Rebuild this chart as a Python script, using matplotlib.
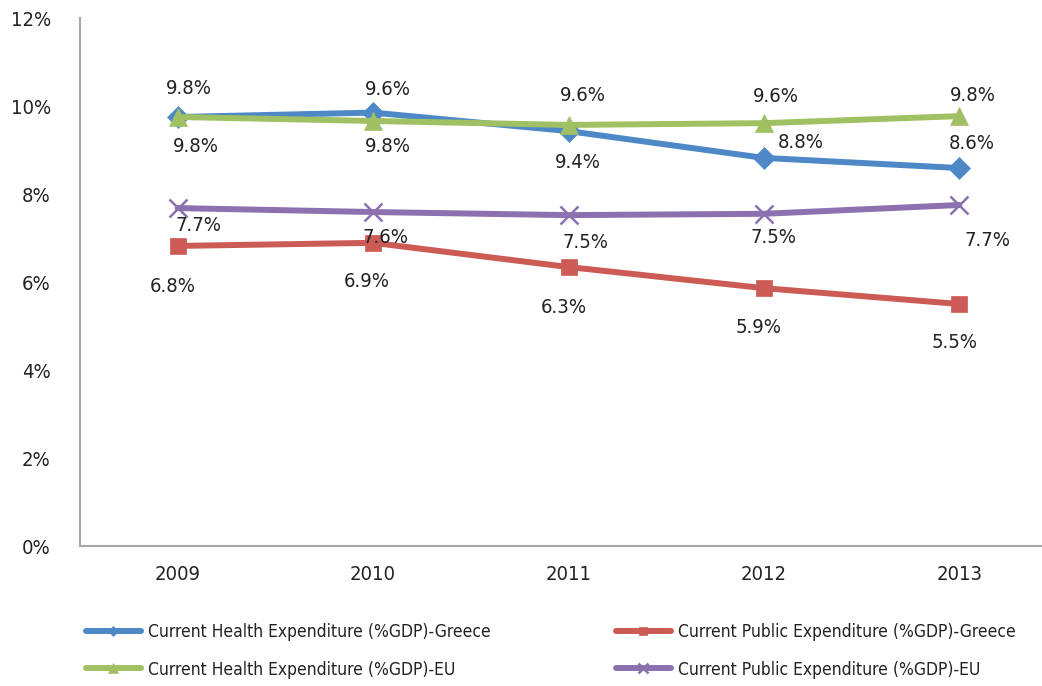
import numpy as np
import matplotlib
matplotlib.use("Agg")
import matplotlib.pyplot as plt
from matplotlib.ticker import FuncFormatter

plt.rcParams['font.family'] = ['DejaVu Sans']
plt.rcParams['font.stretch'] = 'condensed'

# data
years = ["2009", "2010", "2011", "2012", "2013"]
health_gr = [9.75, 9.85, 9.43, 8.82, 8.59]
public_gr = [6.82, 6.89, 6.34, 5.86, 5.50]
health_eu = [9.75, 9.66, 9.57, 9.61, 9.77]
public_eu = [7.68, 7.59, 7.52, 7.55, 7.75]

health_gr_lbl = ["9.8%", "9.8%", "9.4%", "8.8%", "8.6%"]
public_gr_lbl = ["6.8%", "6.9%", "6.3%", "5.9%", "5.5%"]
health_eu_lbl = ["9.8%", "9.6%", "9.6%", "9.6%", "9.8%"]
public_eu_lbl = ["7.7%", "7.6%", "7.5%", "7.5%", "7.7%"]

names = ["Current Health Expenditure (%GDP)-Greece",
         "Current Public Expenditure (%GDP)-Greece",
         "Current Health Expenditure (%GDP)-EU",
         "Current Public Expenditure (%GDP)-EU"]

# label offsets in pixels (dx, dy with y up)
off_health_gr = [(18, -30), (15, -34), (9, -31), (37, 15), (12, 25)]
off_public_gr = [(-5, -41), (-6, -39), (-5, -40), (-5, -39), (-5, -39)]
off_health_eu = [(11, 29), (15, 31), (14, 29), (12, 27), (14, 21)]
off_public_eu = [(21, -17), (12, -25), (17, -27), (10, -24), (28, -35)]

blue = "#4E88C6"
red = "#CD5B55"
green = "#A0C163"
purple = "#8C70B0"

fig = plt.figure(figsize=(10.42, 6.86), dpi=100)
ax = fig.add_axes([80/1042, 140/686, 977/1042, 528/686])

x = np.arange(len(years))
px = 72 / 100  # pixels to points

series = [
    (health_gr, health_gr_lbl, off_health_gr, blue, "D", 11),
    (public_gr, public_gr_lbl, off_public_gr, red, "s", 12),
    (health_eu, health_eu_lbl, off_health_eu, green, "^", 13),
    (public_eu, public_eu_lbl, off_public_eu, purple, "x", 13),
]

handles = []
for (vals, lbls, offs, col, mk, ms), nm in zip(series, names):
    ln, = ax.plot(x, vals, color=col, lw=4.3, marker=mk, markersize=ms,
                  markeredgewidth=1.8 if mk == "x" else 0.5,
                  markeredgecolor=col, label=nm, solid_capstyle="round")
    handles.append(ln)
    for xi, v, t, (dx, dy) in zip(x, vals, lbls, offs):
        ax.annotate(t, (xi, v), xytext=(dx * px, dy * px), textcoords="offset points",
                    ha="center", va="center", fontsize=14.5, color="#222222", zorder=10)

ax.set_xlim(-0.5, 4.5)
ax.set_ylim(0, 12)
ax.set_yticks(np.arange(0, 13, 2))
ax.yaxis.set_major_formatter(FuncFormatter(lambda v, p: f"{v:.0f}%"))
ax.set_xticks(x)
ax.set_xticklabels(years)
ax.tick_params(axis="both", length=0, labelsize=14.5, colors="#222222")
ax.tick_params(axis="y", pad=21)
ax.tick_params(axis="x", pad=14)
for s in ["top", "right"]:
    ax.spines[s].set_visible(False)
for s in ["left", "bottom"]:
    ax.spines[s].set_color("#A6A6A6")
    ax.spines[s].set_linewidth(1.5)

# legend, two columns
leg_kw = dict(loc="center left", frameon=False, fontsize=12.5, handlelength=3.2,
              handletextpad=0.4, labelspacing=1.1, markerscale=0.5)
leg1 = fig.legend([handles[0], handles[2]], [names[0], names[2]],
                  bbox_to_anchor=(70/1042, 1 - 651/686), **leg_kw)
leg2 = fig.legend([handles[1], handles[3]], [names[1], names[3]],
                  bbox_to_anchor=(600/1042, 1 - 651/686), **leg_kw)
for t in leg1.get_texts() + leg2.get_texts():
    t.set_color("#222222")

plt.savefig("out.png", dpi=100)
